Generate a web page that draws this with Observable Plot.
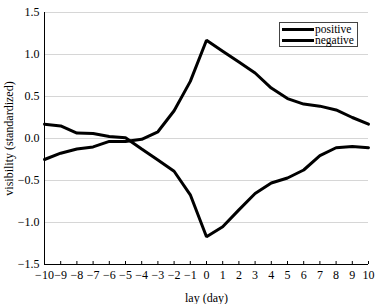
<!DOCTYPE html>
<html><head><meta charset="utf-8">
<script src="https://cdn.jsdelivr.net/npm/d3@7"></script>
<script src="https://cdn.jsdelivr.net/npm/@observablehq/plot@0.6"></script>
<style>
body{margin:0;background:#fff}
svg{font-family:"Liberation Serif",serif}
</style>
</head><body><div id="chart"></div>
<script>
const days = [-10,-9,-8,-7,-6,-5,-4,-3,-2,-1,0,1,2,3,4,5,6,7,8,9,10];
const positive = [-0.25,-0.175,-0.125,-0.10,-0.035,-0.035,-0.01,0.08,0.33,0.68,1.17,1.04,0.91,0.78,0.60,0.475,0.41,0.385,0.34,0.25,0.17];
const negative = [0.17,0.15,0.065,0.06,0.025,0.01,-0.125,-0.255,-0.39,-0.67,-1.17,-1.05,-0.85,-0.655,-0.53,-0.47,-0.375,-0.205,-0.11,-0.095,-0.11];
const seriesNames = ["positive","negative"];
const xTicks = days;
const yTicks = [-1.5,-1,-0.5,0,0.5,1,1.5];

const data = days.flatMap((d,i)=>[
  {day:d, v:positive[i], s:seriesNames[0]},
  {day:d, v:negative[i], s:seriesNames[1]}
]);

const chart = Plot.plot({
  width:378, height:304,
  marginLeft:44, marginRight:10, marginTop:12, marginBottom:40,
  x:{domain:[-10,10]},
  y:{domain:[-1.5,1.5]},
  style:{fontFamily:"Liberation Serif", fontSize:"12px", color:"black", background:"white"},
  marks:[
    Plot.gridY(yTicks,{stroke:"#d6d6d6", strokeOpacity:1}),
    Plot.axisY(yTicks,{tickSize:0, tickPadding:5, fontSize:12, label:"visibility (standardized)", labelAnchor:"center", labelArrow:"none", labelOffset:40}),
    Plot.axisX(xTicks,{tickSize:3, dy:-3, tickFormat:()=>"", label:null}),
    Plot.axisX(xTicks,{tickSize:0, tickPadding:6, fontSize:12, label:"lay (day)", labelAnchor:"center", labelArrow:"none", labelOffset:37}),
    Plot.ruleX([-10],{stroke:"black"}),
    Plot.ruleY([-1.5],{stroke:"black"}),
    Plot.line(data,{x:"day", y:"v", z:"s", stroke:"black", strokeWidth:3, strokeLinejoin:"miter"})
  ]
});
document.getElementById("chart").append(chart);

const svg = d3.select(chart);
const g = svg.append("g").attr("class","legend").attr("text-anchor","start");
g.append("rect").attr("x",279.5).attr("y",22.5).attr("width",78).attr("height",24)
  .attr("fill","white").attr("stroke","#444").attr("stroke-width",1);
seriesNames.forEach((name,i)=>{
  const yy = 29.5 + i*11;
  g.append("line").attr("x1",282).attr("x2",314).attr("y1",yy).attr("y2",yy)
    .attr("stroke","black").attr("stroke-width",3);
  g.append("text").attr("x",315).attr("y",yy+3.6).attr("font-size",11.5)
    .attr("text-anchor","start")
    .attr("font-family","Liberation Serif").attr("fill","black").text(name);
});
</script>
</body></html>
